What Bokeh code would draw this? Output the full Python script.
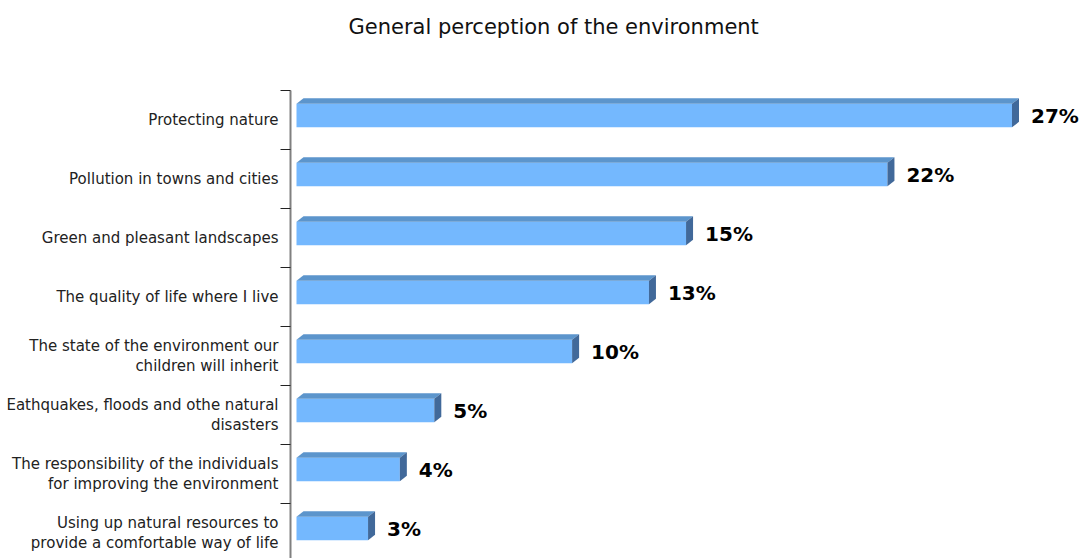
from bokeh.plotting import figure
from bokeh.models import Range1d, FixedTicker, ColumnDataSource, Title
from bokeh.core.properties import value
from bokeh.embed import file_html
from bokeh.resources import INLINE

title_text = "General perception of the environment"
categories = [
    "Protecting nature",
    "Pollution in towns and cities",
    "Green and pleasant landscapes",
    "The quality of life where I live",
    "The state of the environment our\nchildren will inherit",
    "Eathquakes, floods and othe natural\ndisasters",
    "The responsibility of the individuals\nfor improving the environment",
    "Using up natural resources to\nprovide a comfortable way of life",
]
values = [27.0, 22.3, 14.7, 13.3, 10.4, 5.2, 3.9, 2.7]
value_labels = ["27%", "22%", "15%", "13%", "10%", "5%", "4%", "3%"]

# ---- layout / style constants ----
W, H = 1086, 558
LEFT, TOP = 290, 90
FRAME_W = W - LEFT
FRAME_H = H - TOP
PX_PER_X = 26.5
PX_PER_Y = 59.0
X0 = -6 / PX_PER_X
Y_TOP = len(categories) - 0.5

FRONT_H = 23.5 / PX_PER_Y
Y_SHIFT = 4.4 / PX_PER_Y
DX = 7 / PX_PER_X
DY = 5.5 / PX_PER_Y

FRONT = "#74B8FE"
TOPC = "#5C95CC"
SIDE = "#41699A"
FONT = "DejaVu Sans"

n = len(categories)
ypos = [n - 1 - i for i in range(n)]
yc = [y + Y_SHIFT for y in ypos]

front_src = ColumnDataSource(dict(y=yc, right=values))
top_xs, top_ys, side_xs, side_ys = [], [], [], []
for v, c in zip(values, yc):
    t, b = c + FRONT_H / 2, c - FRONT_H / 2
    top_xs.append([0, v, v + DX, DX])
    top_ys.append([t, t, t + DY, t + DY])
    side_xs.append([v, v + DX, v + DX, v])
    side_ys.append([b, b + DY, t + DY, t])

p = figure(
    width=W, height=H, output_backend="svg", toolbar_location=None,
    x_range=Range1d(X0, X0 + FRAME_W / PX_PER_X),
    y_range=Range1d(Y_TOP - FRAME_H / PX_PER_Y, Y_TOP),
    x_axis_type=None,
    min_border_left=LEFT, min_border_top=TOP, min_border_right=0, min_border_bottom=0,
)
p.title = None
p.outline_line_color = None
p.xgrid.visible = False
p.ygrid.visible = False
p.background_fill_color = "white"

# blank spacer panel between the bars and the title (white, on white)
spacer = Title(text=" ", text_font_size="2px", text_color="white", standoff=36)
p.add_layout(spacer, "above")
main_title = Title(text=title_text, align="left", offset=58, vertical_align="top",
                   standoff=20, text_font=FONT, text_font_size="21px",
                   text_font_style="normal", text_color="#111111")
p.add_layout(main_title, "above")

p.hbar(y="y", right="right", left=0, height=FRONT_H, source=front_src,
       fill_color=FRONT, line_color=None)
p.patches(top_xs, top_ys, fill_color=TOPC, line_color=None)
p.patches(side_xs, side_ys, fill_color=SIDE, line_color=None)

p.text(x=[v + DX for v in values], y=yc, text=value_labels,
       x_offset=12, text_baseline="middle", text_align="left",
       text_font=value(FONT), text_font_style="bold", text_font_size="20px",
       text_color="black")

ax = p.yaxis[0]
ax.ticker = FixedTicker(ticks=ypos, minor_ticks=[y - 0.5 for y in range(n + 1)])
ax.major_label_overrides = {y: lab for y, lab in zip(ypos, categories)}
ax.major_tick_out = 0
ax.major_tick_in = 0
ax.minor_tick_out = 10
ax.minor_tick_in = 0
ax.minor_tick_line_color = "#222222"
ax.axis_line_color = "#808080"
ax.axis_line_width = 2
ax.major_label_standoff = 2
ax.major_label_text_font = FONT
ax.major_label_text_font_size = "15px"
ax.major_label_text_color = "#222222"
ax.major_label_text_line_height = 1.15
ax.major_label_text_align = "center"

open("out.html", "w").write(file_html(p, INLINE))
